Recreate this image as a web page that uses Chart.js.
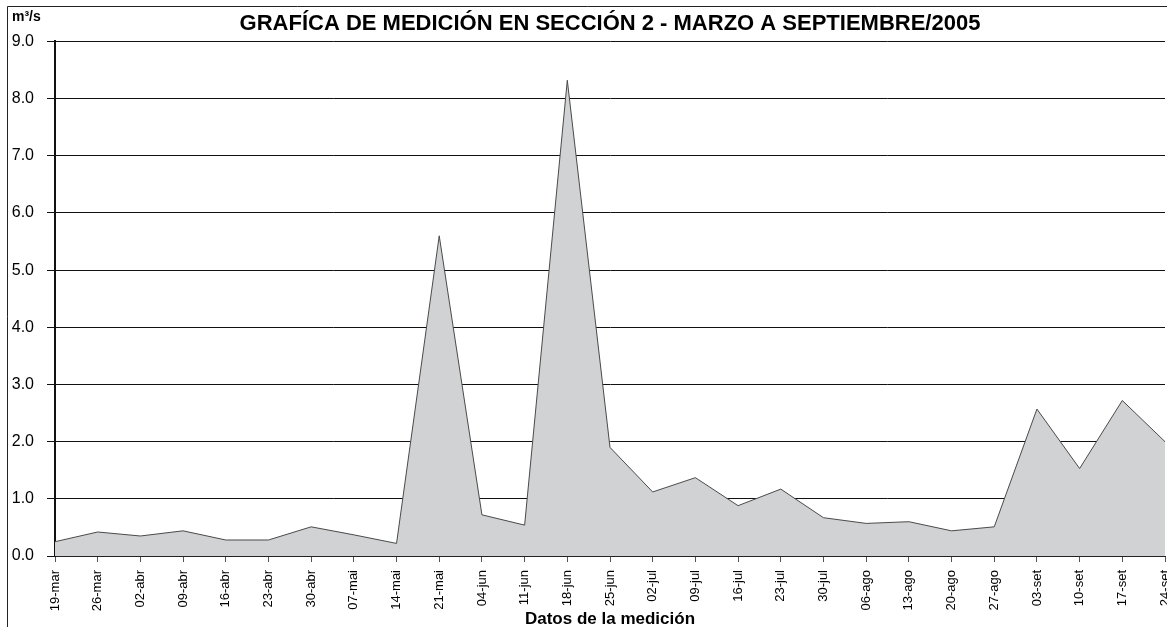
<!DOCTYPE html>
<html>
<head>
<meta charset="utf-8">
<title>Sección 2</title>
<script src="https://cdn.jsdelivr.net/npm/chart.js@4/dist/chart.umd.min.js"></script>
<style>
    html, body { margin: 0; padding: 0; background: #fff; }
    #wrap { position: relative; width: 1167px; height: 627px; }
</style>
</head>
<body>
<div id="wrap"><canvas id="caudal-chart" width="1167" height="627"></canvas></div>
<script>
// fechas de medición (eje x)
const fechas = [
    '19-mar', '26-mar', '02-abr', '09-abr', '16-abr', '23-abr', '30-abr', '07-mai', '14-mai',
    '21-mai', '04-jun', '11-jun', '18-jun', '25-jun', '02-jul', '09-jul', '16-jul', '23-jul',
    '30-jul', '06-ago', '13-ago', '20-ago', '27-ago', '03-set', '10-set', '17-set', '24-set',
];

// caudal medido en m3/s
const caudal = [
    0.25, 0.42, 0.35, 0.44, 0.28, 0.28, 0.51, 0.37, 0.22,
    5.6, 0.72, 0.54, 8.32, 1.9, 1.12, 1.37, 0.88, 1.17,
    0.67, 0.57, 0.6, 0.44, 0.51, 2.57, 1.53, 2.72, 2.0,
];

const yMin = 0;
const yMax = 9;
const yPaso = 1;

const titulo = 'GRAFÍCA DE MEDICIÓN EN SECCIÓN 2 - MARZO A SEPTIEMBRE/2005';
const tituloX = 'Datos de la medición';
const unidad = 'm³/s';

const fuente = '"Liberation Sans", Arial, sans-serif';

// marco, fondo y unidad arriba a la izquierda
const marcoPlugin = {
    id: 'marco',
    beforeDraw(chart) {
        const c = chart.ctx;
        c.save();
        c.fillStyle = '#fff';
        c.fillRect(0, 0, chart.width, chart.height);
        c.strokeStyle = '#222';
        c.lineWidth = 1;
        c.beginPath();
        c.moveTo(7.5, chart.height);
        c.lineTo(7.5, 6.5);
        c.lineTo(chart.width, 6.5);
        c.stroke();
        c.restore();
    },
    afterDraw(chart) {
        const c = chart.ctx;
        c.save();
        c.fillStyle = '#000';
        c.font = 'bold 14px ' + fuente;
        c.textBaseline = 'middle';
        c.fillText(unidad, 12, 17);
        c.restore();
    },
};

new Chart(document.getElementById('caudal-chart'), {
    type: 'line',
    data: {
        labels: fechas,
        datasets: [
            {
                label: 'Caudal',
                data: caudal,
                borderColor: '#4a4a4a',
                borderWidth: 1,
                backgroundColor: '#d1d2d4',
                fill: 'origin',
                tension: 0,
                pointRadius: 0,
            },
        ],
    },
    options: {
        responsive: false,
        animation: false,
        layout: {
            padding: { left: 0, right: 2, top: 0, bottom: 0 },
        },
        plugins: {
            legend: { display: false },
            tooltip: { enabled: false },
            title: {
                display: true,
                text: titulo,
                fullSize: false,
                color: '#000',
                font: { family: fuente, size: 22, weight: 'bold' },
                padding: { top: 11, bottom: 4 },
            },
        },
        scales: {
            x: {
                offset: false,
                afterFit(scale) {
                    scale.paddingRight = 0;
                    scale.paddingLeft = 0;
                    scale.height = 71;
                },
                grid: {
                    drawOnChartArea: false,
                    drawTicks: true,
                    tickLength: 6,
                    tickColor: '#555',
                },
                border: { color: '#222', width: 1 },
                ticks: {
                    color: '#000',
                    font: { family: fuente, size: 13 },
                    minRotation: 90,
                    maxRotation: 90,
                    autoSkip: false,
                    padding: 8,
                },
                title: {
                    display: true,
                    text: tituloX,
                    color: '#000',
                    font: { family: fuente, size: 17, weight: 'bold' },
                    padding: { top: 0, bottom: -3 },
                },
            },
            y: {
                min: yMin,
                max: yMax,
                afterFit(scale) {
                    scale.width = 55;
                    scale.paddingTop = 0;
                },
                grid: {
                    color: '#111',
                    lineWidth: 1,
                    tickLength: 8,
                    tickColor: '#111',
                },
                border: { color: '#111', width: 2 },
                ticks: {
                    stepSize: yPaso,
                    color: '#000',
                    padding: 13,
                    font: { family: fuente, size: 16 },
                    callback: (v) => v.toFixed(1),
                },
            },
        },
    },
    plugins: [marcoPlugin],
});
</script>
</body>
</html>
